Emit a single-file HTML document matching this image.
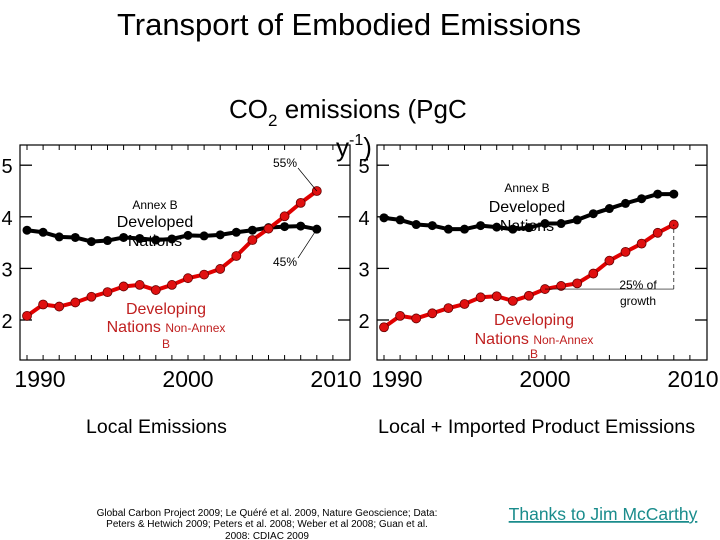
<!DOCTYPE html>
<html><head><meta charset="utf-8"><style>
html,body{margin:0;padding:0;background:#fff;}
svg{display:block;font-family:"Liberation Sans",Arial,sans-serif;}
</style></head><body>
<svg id="s" width="720" height="540" viewBox="0 0 720 540">
<text x="349" y="35" font-size="31" text-anchor="middle">Transport of Embodied Emissions</text>
<text x="229" y="118" font-size="26">CO<tspan font-size="17" dy="8">2</tspan><tspan dy="-8"> emissions (PgC</tspan></text>
<text x="336" y="156" font-size="26">y<tspan font-size="16" dy="-11">-1</tspan><tspan dy="11">)</tspan></text>
<g id="left"></g>
<g id="right"></g>
<text x="86" y="433" font-size="19.5">Local Emissions</text>
<text x="378" y="433" font-size="19.8">Local + Imported Product Emissions</text>
<g font-size="10" text-anchor="middle">
<text x="267" y="516">Global Carbon Project 2009; Le Quéré et al. 2009, Nature Geoscience; Data:</text>
<text x="267" y="527">Peters &amp; Hetwich 2009; Peters et al. 2008; Weber et al 2008; Guan et al.</text>
<text x="267" y="539">2008: CDIAC 2009</text>
</g>
<text x="603" y="520" font-size="17.5" fill="#1a8c8c" text-decoration="underline" text-anchor="middle">Thanks to Jim McCarthy</text>
</svg>
<script>
const years=[1990,1991,1992,1993,1994,1995,1996,1997,1998,1999,2000,2001,2002,2003,2004,2005,2006,2007,2008];
const localDeveloping=[2.08,2.30,2.26,2.34,2.45,2.54,2.65,2.68,2.58,2.68,2.81,2.88,2.99,3.24,3.55,3.77,4.01,4.27,4.50];
const localDeveloped=[3.74,3.70,3.61,3.60,3.52,3.54,3.60,3.58,3.55,3.57,3.64,3.63,3.65,3.70,3.74,3.79,3.81,3.82,3.76];
const importDeveloping=[1.86,2.08,2.03,2.13,2.23,2.31,2.44,2.46,2.37,2.47,2.60,2.66,2.71,2.90,3.15,3.32,3.48,3.69,3.85];
const importDeveloped=[3.98,3.94,3.85,3.83,3.76,3.76,3.83,3.80,3.76,3.79,3.87,3.87,3.94,4.06,4.16,4.26,4.35,4.44,4.44];
const yTicks=[2,3,4,5];
const xTickLabels=[1990,2000,2010];
const NS="http://www.w3.org/2000/svg";
function mk(p,t,a){const e=document.createElementNS(NS,t);for(const k in a)e.setAttribute(k,a[k]);p.appendChild(e);return e;}
function chart(g,L,R,dev,devd,opts){
  const T=145,B=360,first=L+7,step=16.1;
  const xs=y=>first+(y-1990)*step;
  const ys=v=>320-(v-2)*51.6;
  const fr=mk(g,'rect',{x:L,y:T,width:R-L,height:B-T,fill:'none',stroke:'#000','stroke-width':1.2});
  
  
  for(let yr=1989;yr<=2011;yr++){const x=xs(yr);if(x<L+2||x>R-2)continue;
    mk(g,'line',{x1:x,x2:x,y1:B,y2:B-5,stroke:'#000'});mk(g,'line',{x1:x,x2:x,y1:T,y2:T+5,stroke:'#000'});}
  yTicks.forEach(v=>{const y=ys(v);
    mk(g,'line',{x1:L,x2:L+12,y1:y,y2:y,stroke:'#000','stroke-width':1.3});
    mk(g,'line',{x1:R-12,x2:R,y1:y,y2:y,stroke:'#000','stroke-width':1.3});
    const t=mk(g,'text',{x:L-13,y:y+8,'font-size':20,'text-anchor':'middle'});t.textContent=v;
    
    });
  xTickLabels.forEach(v=>{const t=mk(g,'text',{x:Math.min(xs(v),R-14)+(v==1990?13:0),y:387,'font-size':23,'text-anchor':'middle'});t.textContent=v;
    
    });
  [[devd,'#000','#000','developed-series'],[dev,'#e00000','#e01010','developing-series']].forEach(([arr,c,f,n])=>{
    const s=mk(g,'g',{});
    
    
    mk(s,'polyline',{points:arr.map((v,i)=>xs(years[i])+','+ys(v)).join(' '),fill:'none',stroke:c,'stroke-width':4,'stroke-linejoin':'round'});
    arr.forEach((v,i)=>{const p=mk(s,'circle',{cx:xs(years[i]),cy:ys(v),r:4.5,fill:f,stroke:'#600','stroke-width':c=='#000'?0:0.8});
      
      });
  });
  opts(g,xs,ys);
}
function txt(g,x,y,s,str,fill,name,anchor){const t=mk(g,'text',{x:x,y:y,'font-size':s,fill:fill||'#000','text-anchor':anchor||'middle'});t.textContent=str;
  
  return t;}
const lg=document.getElementById('left'),rg=document.getElementById('right');
chart(lg,20,350,localDeveloping,localDeveloped,(g,xs,ys)=>{
  txt(g,155,209,12,'Annex B','#000','annex-b-label');
  txt(g,155,227,16,'Developed','#000','developed-label');
  txt(g,155,246,16,'Nations','#000','developed-label-2');
  txt(g,166,314,16,'Developing','#c02020','developing-label');
  const t=txt(g,166,332,16,'Nations ','#c02020','developing-label-2');const ts=mk(t,'tspan',{'font-size':12});ts.textContent='Non-Annex';
  txt(g,166,348,12,'B','#c02020','developing-label-3');
  txt(g,285,167,12,'55%','#000','share-55-label');
  mk(g,'line',{x1:298,y1:168,x2:xs(2008),y2:ys(localDeveloping[18]),stroke:'#000','stroke-width':0.7});
  txt(g,285,266,12,'45%','#000','share-45-label');
  mk(g,'line',{x1:298,y1:258,x2:xs(2008),y2:ys(localDeveloped[18]),stroke:'#000','stroke-width':0.7});
});
chart(rg,377,707,importDeveloping,importDeveloped,(g,xs,ys)=>{
  txt(g,527,192,12,'Annex B','#000','annex-b-label');
  txt(g,527,212,16,'Developed','#000','developed-label');
  txt(g,527,231,16,'Nations','#000','developed-label-2');
  txt(g,534,325,16,'Developing','#c02020','developing-label');
  const t=txt(g,534,344,16,'Nations ','#c02020','developing-label-2');const ts=mk(t,'tspan',{'font-size':12});ts.textContent='Non-Annex';
  txt(g,534,358,12,'B','#c02020','developing-label-3');
  const y0=ys(importDeveloping[10]);
  mk(g,'line',{x1:xs(2000),x2:xs(2008),y1:y0,y2:y0,stroke:'#000','stroke-width':0.7});
  mk(g,'line',{x1:xs(2008),x2:xs(2008),y1:y0,y2:ys(importDeveloping[18]),stroke:'#000','stroke-width':0.7,'stroke-dasharray':'4,3'});
  txt(g,638,289,12,'25% of','#000','growth-share-label');
  txt(g,638,305,12,'growth','#000','growth-share-label-2');
});
</script>
</body></html>
